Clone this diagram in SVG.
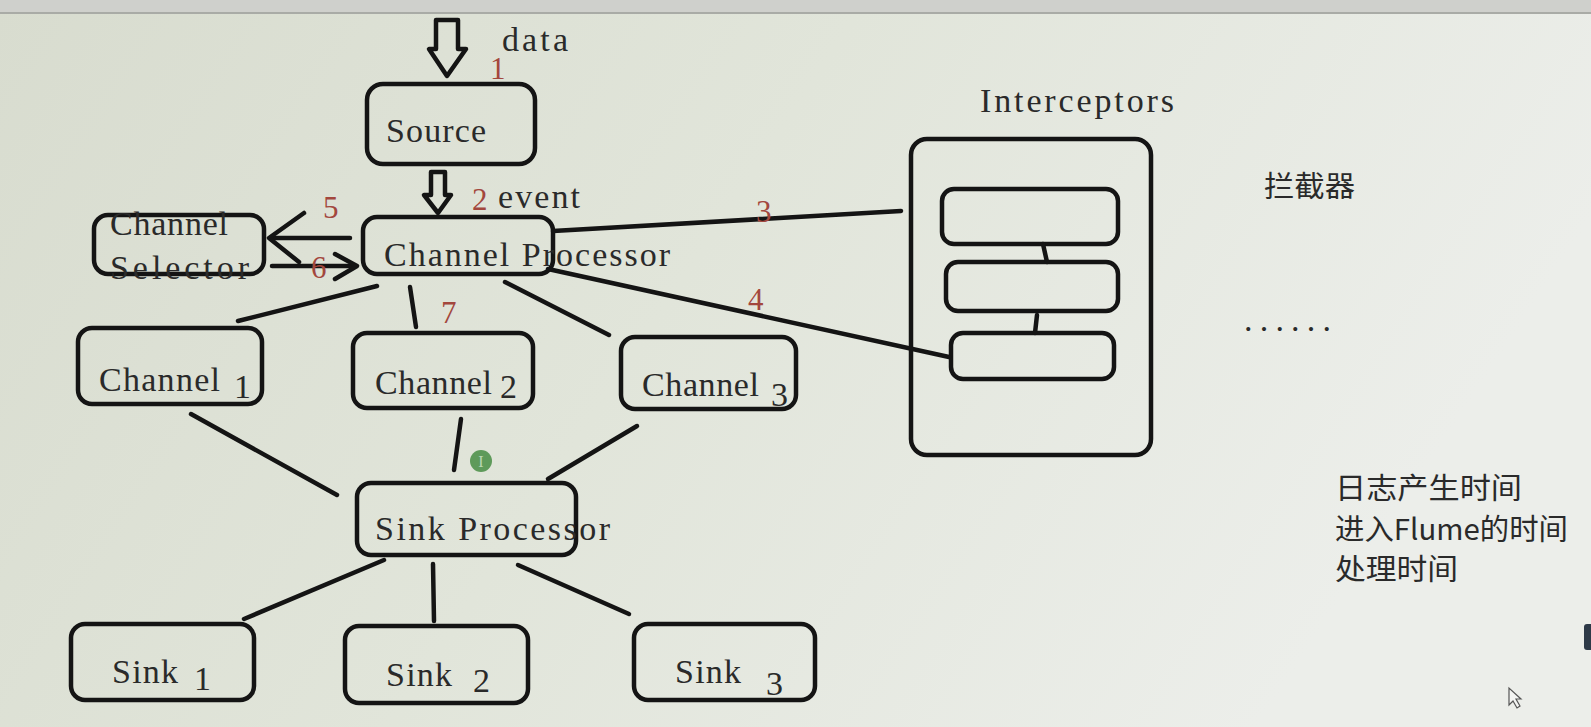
<svg xmlns="http://www.w3.org/2000/svg" width="1591" height="727" viewBox="0 0 1591 727">
<defs>
<linearGradient id="bg" x1="0" y1="0" x2="1" y2="0.3">
<stop offset="0" stop-color="#d8dccf"/>
<stop offset="0.5" stop-color="#e1e5da"/>
<stop offset="1" stop-color="#eceeea"/>
</linearGradient>
<style>
.box{fill:none;stroke:#141414;stroke-width:4.5}
.ln{fill:none;stroke:#141414;stroke-width:4.5;stroke-linecap:round;stroke-linejoin:round}
.t{font-family:"Liberation Serif",serif;font-size:34px;fill:#2a2a2a}
.r{font-family:"Liberation Serif",serif;font-size:31px;fill:#a3473d}
.c{font-family:"Noto Sans CJK SC",sans-serif;font-size:29px;fill:#2a2a2a}
</style>
</defs>
<rect x="0" y="0" width="1591" height="727" fill="url(#bg)"/>
<rect x="0" y="0" width="1591" height="12" fill="#cfd0cc"/>
<line x1="0" y1="13" x2="1591" y2="13" stroke="#a9aba6" stroke-width="2"/>

<g id="data-arrow">
<polygon class="ln" points="436,20 458,20 458,49 466,49 447,76 429,49 436,49"/>
<text class="t" x="502" y="51" textLength="66" lengthAdjust="spacing">data</text>
<text class="r" x="490" y="79">1</text>
</g>

<g id="source">
<rect class="box" x="367" y="84" width="168" height="80" rx="16"/>
<text class="t" x="386" y="142" textLength="100" lengthAdjust="spacing">Source</text>
</g>

<g id="event-arrow">
<polygon class="ln" points="431,172 445,172 445,195 451,195 438,213 424,195 431,195"/>
<text class="r" x="472" y="210">2</text>
<text class="t" x="498" y="208" textLength="82" lengthAdjust="spacing">event</text>
</g>

<g id="channel-selector">
<rect class="box" x="94" y="215" width="170" height="59" rx="14"/>
<text class="t" x="110" y="235" textLength="118" lengthAdjust="spacing">Channel</text>
<text class="t" x="110" y="279" textLength="139" lengthAdjust="spacing">Selector</text>
</g>

<g id="channel-processor">
<rect class="box" x="363" y="217" width="190" height="57" rx="14"/>
<text class="t" x="384" y="266" textLength="286" lengthAdjust="spacing">Channel Processor</text>
</g>

<g id="interceptors">
<text class="t" x="980" y="112" textLength="194" lengthAdjust="spacing">Interceptors</text>
<rect class="box" x="911" y="139" width="240" height="316" rx="16"/>
<rect class="box" x="942" y="189" width="176" height="55" rx="12"/>
<rect class="box" x="946" y="262" width="172" height="49" rx="12"/>
<rect class="box" x="951" y="333" width="163" height="46" rx="12"/>
<line class="ln" x1="1043" y1="244" x2="1047" y2="262"/>
<line class="ln" x1="1037" y1="315" x2="1035" y2="333"/>
</g>

<g id="notes">
<text class="c" x="1264" y="197" textLength="91" lengthAdjust="spacingAndGlyphs">拦截器</text>
<text class="t" x="1244" y="331" textLength="87" lengthAdjust="spacing">......</text>
<text class="c" x="1335" y="499" textLength="187" lengthAdjust="spacingAndGlyphs">日志产生时间</text>
<text class="c" x="1335" y="540" textLength="233" lengthAdjust="spacingAndGlyphs">进入Flume的时间</text>
<text class="c" x="1335" y="580" textLength="123" lengthAdjust="spacingAndGlyphs">处理时间</text>
</g>

<g id="channel1">
<rect class="box" x="78" y="328" width="184" height="76" rx="14"/>
<text class="t" x="99" y="391" textLength="121" lengthAdjust="spacing">Channel</text>
<text class="t" x="234" y="398">1</text>
</g>
<g id="channel2">
<rect class="box" x="353" y="333" width="180" height="75" rx="14"/>
<text class="t" x="375" y="394" textLength="117" lengthAdjust="spacing">Channel</text>
<text class="t" x="500" y="398">2</text>
</g>
<g id="channel3">
<rect class="box" x="621" y="337" width="175" height="72" rx="14"/>
<text class="t" x="642" y="396" textLength="117" lengthAdjust="spacing">Channel</text>
<text class="t" x="771" y="406">3</text>
</g>

<g id="sink-processor">
<rect class="box" x="357" y="483" width="219" height="72" rx="14"/>
<text class="t" x="375" y="540" textLength="235" lengthAdjust="spacing">Sink Processor</text>
</g>

<g id="sink1">
<rect class="box" x="71" y="624" width="183" height="76" rx="14"/>
<text class="t" x="112" y="683" textLength="66" lengthAdjust="spacing">Sink</text>
<text class="t" x="194" y="690">1</text>
</g>
<g id="sink2">
<rect class="box" x="345" y="626" width="183" height="77" rx="14"/>
<text class="t" x="386" y="686" textLength="66" lengthAdjust="spacing">Sink</text>
<text class="t" x="473" y="692">2</text>
</g>
<g id="sink3">
<rect class="box" x="634" y="624" width="181" height="76" rx="14"/>
<text class="t" x="675" y="683" textLength="66" lengthAdjust="spacing">Sink</text>
<text class="t" x="766" y="695">3</text>
</g>

<g id="connectors">
<line class="ln" x1="350" y1="238" x2="270" y2="238"/>
<polyline class="ln" points="304,213 269,238 299,262"/>
<text class="r" x="323" y="218">5</text>
<line class="ln" x1="272" y1="266" x2="355" y2="266"/>
<polyline class="ln" points="335,254 357,266 335,279"/>
<text class="r" x="311" y="278">6</text>
<line class="ln" x1="553" y1="231" x2="901" y2="211"/>
<text class="r" x="756" y="222">3</text>
<line class="ln" x1="548" y1="269" x2="949" y2="357"/>
<text class="r" x="748" y="310">4</text>
<line class="ln" x1="377" y1="286" x2="238" y2="321"/>
<line class="ln" x1="410" y1="287" x2="416" y2="327"/>
<text class="r" x="441" y="323">7</text>
<line class="ln" x1="505" y1="282" x2="609" y2="335"/>
<line class="ln" x1="191" y1="414" x2="337" y2="495"/>
<line class="ln" x1="461" y1="419" x2="454" y2="470"/>
<line class="ln" x1="637" y1="426" x2="548" y2="479"/>
<line class="ln" x1="384" y1="560" x2="244" y2="619"/>
<line class="ln" x1="433" y1="564" x2="434" y2="621"/>
<line class="ln" x1="518" y1="565" x2="629" y2="614"/>
</g>

<g id="cursor-dot">
<circle cx="481" cy="461" r="11" fill="#5e9a5a"/>
<text x="481" y="467" text-anchor="middle" font-family="Liberation Serif,serif" font-size="16" fill="#b9d6b3">I</text>
</g>
<rect x="1584" y="624" width="10" height="26" rx="3" fill="#2e3a48"/>
<polygon points="1509,688 1509,705 1513,701 1517,708 1520,706 1516,699 1521,699" fill="#f3f4f2" stroke="#555" stroke-width="1.2"/>
</svg>
